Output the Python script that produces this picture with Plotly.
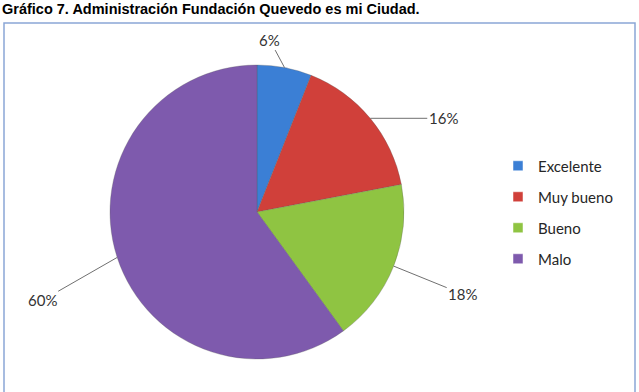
import math
import plotly.graph_objects as go

# ---- data ----
categories = ["Excelente", "Muy bueno", "Bueno", "Malo"]
values = [6, 16, 18, 60]
colors = ["#3b7fd5", "#d0403a", "#8fc442", "#7e5aad"]
title_text = "Gráfico 7. Administración Fundación Quevedo es mi Ciudad."

# ---- layout geometry (pixels) ----
W, H = 639, 392
cx, cy, r = 257, 212, 147
label_offsets = [(-15, -28), (73, 0), (69, 28), (-75, 43)]  # text offset from slice edge

fig = go.Figure()
fig.add_trace(go.Pie(
    labels=categories, values=values, sort=False, direction="clockwise", rotation=0,
    marker=dict(colors=colors, line=dict(color="rgba(90,90,90,0.5)", width=0.6)),
    textinfo="none", hoverinfo="label+percent", showlegend=False,
    domain=dict(x=[(cx - r) / W, (cx + r) / W], y=[(H - cy - r) / H, (H - cy + r) / H]),
))

# legend entries
for c, col in zip(categories, colors):
    fig.add_trace(go.Scatter(
        x=[None], y=[None], mode="markers", name=c, legendgroup=c,
        marker=dict(symbol="square", size=10, color=col, line=dict(color="#ffffff", width=0.5)),
    ))

# percentage labels with leader lines, positioned from slice mid-angles
total = sum(values)
cum = 0
annotations = []
for v, (ox, oy) in zip(values, label_offsets):
    mid = (cum + v / 2) / total * 2 * math.pi
    cum += v
    px = cx + r * math.sin(mid)
    py = cy - r * math.cos(mid)
    annotations.append(dict(
        x=px / W, y=1 - py / H, xref="paper", yref="paper",
        ax=ox, ay=oy, axref="pixel", ayref="pixel",
        text=f"{round(v / total * 100)}%", showarrow=True, arrowhead=0,
        arrowwidth=1, arrowcolor="#707070", standoff=0,
        font=dict(family="Lato", size=15, color="#333333"),
    ))

annotations.append(dict(
    x=0, y=1 - 9 / H, xref="paper", yref="paper", xanchor="left", yanchor="middle",
    text=f"<b>{title_text}</b>", showarrow=False,
    font=dict(family="Liberation Sans, Arial", size=14.5, color="#000000"),
))

fig.update_layout(
    width=W, height=H, margin=dict(l=0, r=0, t=0, b=0),
    paper_bgcolor="white", plot_bgcolor="white",
    xaxis=dict(visible=False), yaxis=dict(visible=False),
    annotations=annotations,
    legend=dict(x=498 / W, y=1 - 149.5 / H, xanchor="left", yanchor="top",
                font=dict(family="Lato", size=15, color="#262626"),
                tracegroupgap=8.5, bgcolor="rgba(0,0,0,0)"),
    shapes=[dict(type="rect", xref="paper", yref="paper",
                 x0=4 / W, x1=635 / W, y0=-0.02, y1=1 - 23 / H,
                 line=dict(color="#8aa6d6", width=1.5))],
)

fig.write_html("out.html")
